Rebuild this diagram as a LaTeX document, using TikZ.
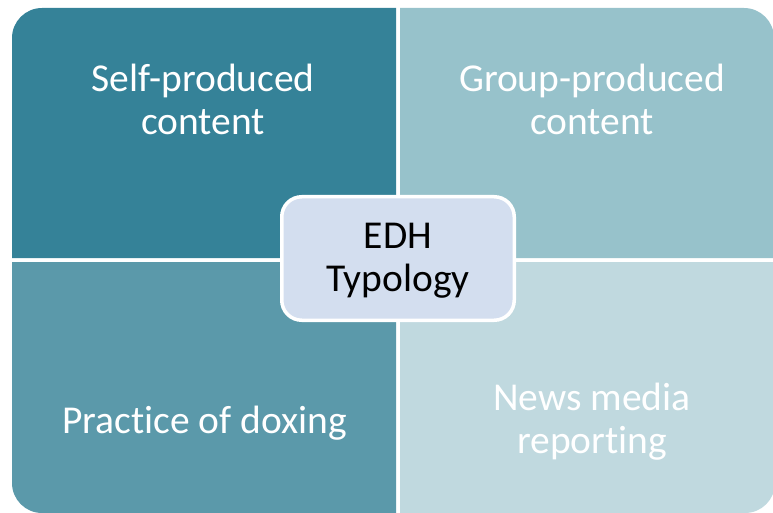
\documentclass[tikz,border=0pt]{standalone}
\usepackage{fontspec}
\setmainfont[Ligatures={NoCommon}]{Carlito}
\definecolor{qTL}{RGB}{53,130,152}
\definecolor{qTR}{RGB}{151,194,203}
\definecolor{qBL}{RGB}{91,153,170}
\definecolor{qBR}{RGB}{192,217,223}
\definecolor{centerfill}{RGB}{211,222,239}
\tikzset{
  qtext/.style={text=white, align=center, inner sep=0pt, font=\fontsize{39.5}{43}\selectfont},
  centerbox/.style={draw=white, line width=3.5pt, fill=centerfill, rounded corners=20pt,
    minimum width=232.5pt, minimum height=123.5pt, inner sep=0pt,
    font=\fontsize{39.5}{43}\selectfont, text=black}
}
\begin{document}
\begin{tikzpicture}[x=1pt,y=1pt]
\useasboundingbox (0,0) rectangle (773,512);
\clip (0,0) rectangle (773,512);
% quadrants
\fill[qTL] (396,254) -- (12,254) -- (12,474) arc[start angle=180, end angle=90, radius=30] -- (396,504) -- cycle;
\fill[qTR] (400,254) -- (400,504) -- (744,504) arc[start angle=90, end angle=0, radius=30] -- (774,254) -- cycle;
\fill[qBL] (396,250) -- (396,-1) -- (42,-1) arc[start angle=270, end angle=180, radius=30] -- (12,250) -- cycle;
\fill[qBR] (400,250) -- (775,250) -- (775,29) arc[start angle=0, end angle=-90, radius=30] -- (400,-1) -- cycle;
% texts
\node[qtext] (tl) at (203,413) {Self-produced\\content};
\node[qtext] (tr) at (592,413) {Group-produced\\content};
\node[qtext, anchor=base] (bl) at (204.5,79) {Practice of doxing};
\node[qtext] (br) at (592,90) {News media\\reporting};
\node[centerbox] (c) at (398,253.5) {\raisebox{-3pt}[\height][\depth]{\begin{tabular}{@{}c@{}}EDH\\Typology\end{tabular}}};
\end{tikzpicture}
\end{document}
